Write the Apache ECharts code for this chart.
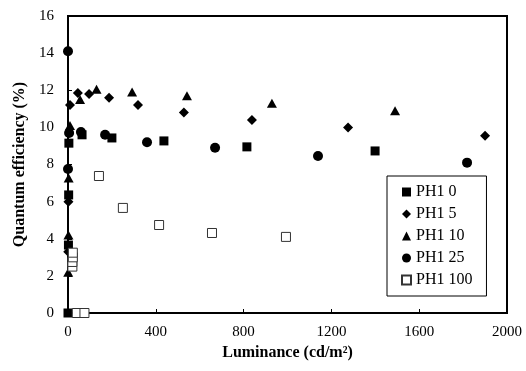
<!DOCTYPE html>
<html>
<head>
<meta charset="utf-8">
<script src="https://cdn.jsdelivr.net/npm/echarts@6/dist/echarts.min.js"></script>
<style>
  html, body { margin: 0; padding: 0; background: #fff; }
  #chart { width: 526px; height: 371px; }
</style>
</head>
<body>
<div id="chart"></div>
<script>
// luminance (cd/m2), quantum efficiency (%)
var ph1_0 = [[0, 0], [2, 3.66], [3, 6.36], [4, 9.15], [64, 9.6], [200, 9.43], [437, 9.27], [815, 8.95], [1399, 8.73]];
var ph1_5 = [[1, 3.3], [2, 6.0], [9, 11.2], [45, 11.85], [96, 11.8], [187, 11.6], [319, 11.2], [528, 10.8], [838, 10.4], [1276, 10.0], [1900, 9.55]];
var ph1_10 = [[1, 2.2], [2, 4.2], [3, 7.27], [9, 10.1], [55, 11.5], [130, 12.05], [292, 11.9], [542, 11.7], [929, 11.3], [1490, 10.9]];
var ph1_25 = [[0, 14.1], [0, 7.76], [5, 9.7], [59, 9.75], [169, 9.6], [360, 9.2], [670, 8.9], [1139, 8.46], [1818, 8.1]];
var ph1_100 = [[20, 2.5], [20, 2.75], [22, 3.0], [22, 3.25], [40, 0], [75, 0], [141, 7.38], [250, 5.66], [415, 4.74], [656, 4.31], [993, 4.1]];

var seriesNames = ['PH1 0', 'PH1 5', 'PH1 10', 'PH1 25', 'PH1 100'];
var xTicks = [0, 400, 800, 1200, 1600, 2000];
var yTicks = [0, 2, 4, 6, 8, 10, 12, 14, 16];

var font = '"Liberation Serif", "Times New Roman", serif';

var chart = echarts.init(document.getElementById('chart'));

function scatter(name, data, symbol, size, style) {
  style.opacity = 1;
  return {
    name: name,
    type: 'scatter',
    data: data,
    symbol: symbol,
    symbolSize: size,
    itemStyle: style,
    emphasis: { disabled: true }
  };
}

chart.setOption({
  animation: false,
  textStyle: { fontFamily: font, color: '#000' },
  grid: {
    left: 68, right: 19, top: 16, bottom: 58,
    show: true, borderColor: '#000', borderWidth: 2, backgroundColor: 'transparent'
  },
  legend: {
    orient: 'vertical',
    left: 387, top: 176,
    padding: [8, 14, 8, 14],
    itemWidth: 9, itemHeight: 9,
    itemGap: 6,
    borderColor: '#000', borderWidth: 1,
    backgroundColor: '#fff',
    data: seriesNames,
    textStyle: { fontFamily: font, fontSize: 16, color: '#000', lineHeight: 16 }
  },
  xAxis: {
    type: 'value',
    min: xTicks[0], max: xTicks[xTicks.length - 1], interval: 400,
    name: 'Luminance (cd/m²)',
    nameLocation: 'middle', nameGap: 30,
    nameTextStyle: { fontFamily: font, fontWeight: 'bold', fontSize: 16, color: '#000' },
    axisLine: { lineStyle: { color: '#000', width: 2 } },
    axisTick: { inside: true, length: 4, lineStyle: { color: '#000' } },
    axisLabel: { fontFamily: font, fontSize: 15, color: '#000', margin: 12, formatter: function (v) { return String(v); } },
    splitLine: { show: false }
  },
  yAxis: {
    type: 'value',
    min: yTicks[0], max: yTicks[yTicks.length - 1], interval: 2,
    name: 'Quantum efficiency (%)',
    nameLocation: 'middle', nameGap: 40,
    nameTextStyle: { fontFamily: font, fontWeight: 'bold', fontSize: 16, color: '#000' },
    axisLine: { lineStyle: { color: '#000', width: 2 } },
    axisTick: { inside: true, length: 4, lineStyle: { color: '#000' } },
    axisLabel: { fontFamily: font, fontSize: 15, color: '#000', margin: 14 },
    splitLine: { show: false }
  },
  series: [
    scatter('PH1 0', ph1_0, 'rect', 9, { color: '#000' }),
    scatter('PH1 5', ph1_5, 'diamond', [10, 10], { color: '#000' }),
    scatter('PH1 10', ph1_10, 'triangle', [10, 9], { color: '#000' }),
    scatter('PH1 25', ph1_25, 'circle', 10, { color: '#000' }),
    scatter('PH1 100', ph1_100, 'rect', 9, { color: '#fff', borderColor: '#333', borderWidth: 1 })
  ]
});
</script>
</body>
</html>
